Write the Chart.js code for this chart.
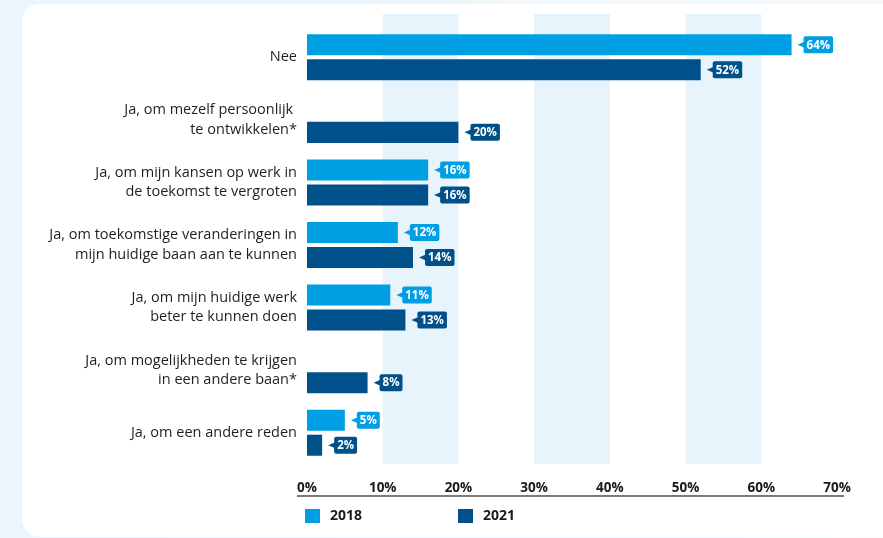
<!DOCTYPE html>
<html lang="nl">
<head>
<meta charset="utf-8">
<title>Redenen voor scholing</title>
<script src="https://cdn.jsdelivr.net/npm/chart.js@4.4.1/dist/chart.umd.min.js"></script>
<style>
  html, body { margin: 0; padding: 0; }
  body {
    width: 883px; height: 538px; overflow: hidden; position: relative;
    background: linear-gradient(90deg, #eaf5fc 0%, #f3f9fd 100%);
  }
  .card {
    position: absolute; left: 22px; top: 4px; width: 900px; height: 533px;
    background: #ffffff; border-radius: 18px;
  }
  #wrap { position: absolute; left: 0; top: 0; width: 883px; height: 538px; }
</style>
</head>
<body>
<div class="card"></div>
<div id="wrap"><canvas id="chart" width="883" height="538"></canvas></div>
<script>
// Antwoordcategorieën (meerregelige labels)
const categories = [
  ["Nee"],
  ["Ja, om mezelf persoonlijk ", "te ontwikkelen*"],
  ["Ja, om mijn kansen op werk in", "de toekomst te vergroten"],
  ["Ja, om toekomstige veranderingen in", "mijn huidige baan aan te kunnen"],
  ["Ja, om mijn huidige werk", "beter te kunnen doen"],
  ["Ja, om mogelijkheden te krijgen", "in een andere baan*"],
  ["Ja, om een andere reden"]
];

// Percentages per meetjaar (null = niet gevraagd in dat jaar)
const values2018 = [64, null, 16, 12, 11, null, 5];
const values2021 = [52, 20, 16, 14, 13, 8, 2];

const seriesLabels = ["2018", "2021"];
const xTicks = [0, 10, 20, 30, 40, 50, 60, 70];

const COLOR_2018 = "#009fe3";
const COLOR_2021 = "#00508a";
const BAND = "#e7f4fc";
const FONT = "'Open Sans', 'Noto Sans', sans-serif";

// Afwisselende verticale banden (10-20, 30-40, 50-60)
const bandsPlugin = {
  id: "bands",
  beforeDatasetsDraw(chart) {
    const { ctx, chartArea, scales } = chart;
    const x = scales.x;
    ctx.save();
    ctx.fillStyle = BAND;
    for (let i = 1; i < xTicks.length - 1; i += 2) {
      const x0 = x.getPixelForValue(xTicks[i]);
      const x1 = x.getPixelForValue(xTicks[i + 1]);
      ctx.fillRect(x0, chartArea.top - 12, x1 - x0, chartArea.bottom - chartArea.top + 12);
    }
    ctx.restore();
  }
};

// As-lijn onder de percentagelabels
const axisLinePlugin = {
  id: "axisLine",
  afterDraw(chart) {
    const { ctx, chartArea } = chart;
    ctx.save();
    ctx.strokeStyle = "#7a7a7a";
    ctx.lineWidth = 2;
    ctx.beginPath();
    const y = chartArea.bottom + 32;
    ctx.moveTo(chartArea.left - 10, y);
    ctx.lineTo(chartArea.right + 7, y);
    ctx.stroke();
    ctx.restore();
  }
};

// Waardelabels als kleine tekstballonnen achter elke balk
const valueLabelPlugin = {
  id: "valueLabels",
  afterDatasetsDraw(chart) {
    const { ctx } = chart;
    ctx.save();
    ctx.font = "bold 11.5px " + FONT;
    ctx.textBaseline = "middle";
    ctx.textAlign = "left";
    chart.data.datasets.forEach((ds, di) => {
      const meta = chart.getDatasetMeta(di);
      meta.data.forEach((el, i) => {
        const v = ds.data[i];
        if (v === null || v === undefined) return;
        const text = v + "%";
        const tw = ctx.measureText(text).width;
        const w = tw + 6, h = 17;
        const bx = el.x + 12, by = el.y - h / 2;
        ctx.fillStyle = ds.backgroundColor;
        ctx.beginPath();
        ctx.moveTo(el.x + 6, el.y);
        ctx.lineTo(bx + 1, el.y - 3);
        ctx.lineTo(bx + 1, el.y + 3);
        ctx.closePath();
        ctx.fill();
        ctx.beginPath();
        ctx.roundRect(bx, by, w, h, 2);
        ctx.fill();
        ctx.fillStyle = "#ffffff";
        ctx.fillText(text, bx + 3, el.y + 0.5);
      });
    });
    ctx.restore();
  }
};

// Legenda onder de as
const legendPlugin = {
  id: "customLegend",
  afterDraw(chart) {
    const { ctx, chartArea } = chart;
    ctx.save();
    ctx.font = "bold 14px " + FONT;
    ctx.textBaseline = "middle";
    ctx.textAlign = "left";
    const y = chartArea.bottom + 45;
    chart.data.datasets.forEach((ds, di) => {
      const x = chartArea.left - 2 + di * 153;
      ctx.fillStyle = ds.backgroundColor;
      ctx.fillRect(x, y, 15, 14);
      ctx.fillStyle = "#1a1a1a";
      ctx.fillText(ds.label, x + 25, y + 7.5);
    });
    ctx.restore();
  }
};

new Chart(document.getElementById("chart"), {
  type: "bar",
  data: {
    labels: categories,
    datasets: [
      { label: seriesLabels[0], data: values2018, backgroundColor: COLOR_2018 },
      { label: seriesLabels[1], data: values2021, backgroundColor: COLOR_2021 }
    ]
  },
  options: {
    indexAxis: "y",
    responsive: false,
    animation: false,
    devicePixelRatio: 1,
    categoryPercentage: 0.8,
    barPercentage: 0.84,
    layout: { padding: { top: 26, right: 46, bottom: 44, left: 0 } },
    plugins: {
      legend: { display: false },
      tooltip: { enabled: false }
    },
    scales: {
      x: {
        min: 0, max: 70,
        grid: { display: false, drawTicks: false },
        border: { display: false },
        afterBuildTicks(scale) { scale.ticks = xTicks.map(v => ({ value: v })); },
        afterFit(scale) { scale.height = 30; },
        ticks: {
          padding: 16,
          maxRotation: 0,
          color: "#1a1a1a",
          font: { family: FONT, size: 13.5, weight: "bold" },
          callback: v => v + "%"
        }
      },
      y: {
        grid: { display: false, drawTicks: false },
        border: { display: false },
        afterFit(scale) { scale.width = 307; },
        ticks: {
          padding: 10,
          color: "#1f1f1f",
          font: { family: FONT, size: 14.5, lineHeight: 1.33 }
        }
      }
    }
  },
  plugins: [bandsPlugin, valueLabelPlugin, axisLinePlugin, legendPlugin]
});
</script>
</body>
</html>
